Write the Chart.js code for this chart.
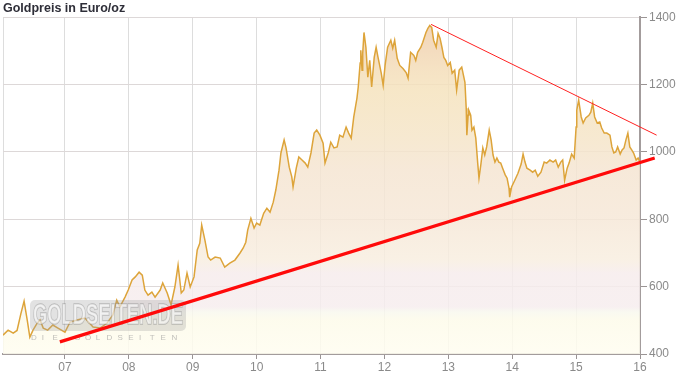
<!DOCTYPE html>
<html><head><meta charset="utf-8">
<script src="https://cdn.jsdelivr.net/npm/chart.js@4"></script>
<style>html,body{margin:0;padding:0;background:#fff}#wrap{width:676px;height:375px}</style>
</head><body><div id="wrap"><canvas id="c" width="676" height="375"></canvas></div>
<script>
// ---- data (decimal years, EUR/oz) ----
const years = [2006.03,2006.11,2006.19,2006.25,2006.31,2006.36,2006.41,2006.45,2006.50,2006.56,2006.61,2006.66,2006.73,2006.81,2006.89,
2007.00,2007.08,2007.19,2007.31,2007.44,2007.55,2007.66,2007.75,2007.81,2007.86,2007.94,2007.99,
2008.05,2008.10,2008.16,2008.21,2008.25,2008.30,2008.36,2008.41,2008.49,2008.53,2008.60,2008.66,2008.72,2008.77,2008.82,2008.86,2008.91,2008.96,
2009.02,2009.07,2009.11,2009.14,2009.19,2009.24,2009.28,2009.35,2009.43,2009.50,2009.58,2009.66,2009.74,2009.79,2009.83,2009.86,2009.91,2009.96,
2010.00,2010.05,2010.11,2010.16,2010.21,2010.26,2010.30,2010.35,2010.38,2010.43,2010.46,2010.51,2010.55,2010.57,2010.62,2010.66,2010.71,2010.76,2010.80,2010.85,2010.90,2010.94,2010.99,
2011.04,2011.07,2011.12,2011.16,2011.21,2011.26,2011.30,2011.35,2011.40,2011.44,2011.48,2011.52,2011.57,2011.59,2011.62,2011.63,2011.65,2011.66,2011.68,2011.71,2011.74,2011.77,2011.80,2011.84,2011.87,2011.90,2011.95,2011.98,
2012.01,2012.05,2012.10,2012.13,2012.16,2012.20,2012.24,2012.29,2012.34,2012.37,2012.41,2012.46,2012.49,2012.52,2012.57,2012.60,2012.65,2012.68,2012.71,2012.74,2012.77,2012.81,2012.84,2012.87,2012.90,2012.93,2012.96,2012.99,
2013.03,2013.06,2013.10,2013.13,2013.17,2013.21,2013.26,2013.28,2013.29,2013.31,2013.32,2013.35,2013.37,2013.40,2013.43,2013.46,2013.48,2013.51,2013.54,2013.57,2013.60,2013.64,2013.67,2013.70,2013.73,2013.76,2013.79,2013.82,2013.85,2013.89,2013.92,2013.95,2013.96,2013.99,
2014.04,2014.09,2014.14,2014.17,2014.20,2014.23,2014.28,2014.32,2014.36,2014.40,2014.45,2014.50,2014.54,2014.59,2014.64,2014.68,2014.72,2014.76,2014.79,2014.82,2014.86,2014.89,2014.93,2014.97,
2015.00,2015.01,2015.04,2015.08,2015.11,2015.15,2015.20,2015.23,2015.26,2015.29,2015.33,2015.37,2015.40,2015.44,2015.48,2015.53,2015.56,2015.59,2015.62,2015.65,2015.69,2015.72,2015.75,2015.78,2015.81,2015.84,2015.87,2015.90,2015.94,2015.97,2016.00];
const prices = [456,471,462,470,520,557,500,450,471,490,501,477,471,486,477,
465,495,501,507,480,477,492,516,560,540,569,590,
620,629,643,634,590,575,584,569,590,611,581,546,599,664,581,590,640,599,
629,709,729,783,738,688,679,688,685,658,670,679,700,715,732,768,803,774,
789,783,818,833,821,851,887,946,997,1036,1012,955,926,896,952,985,976,967,955,997,1056,1065,1050,
1026,967,997,1029,1012,1015,1050,1044,1074,1056,1041,1104,1160,1193,1264,1302,1243,1293,1355,1311,1222,1272,1193,1281,1311,1281,1234,1198,
1257,1311,1332,1308,1332,1278,1257,1248,1236,1219,1296,1287,1272,1296,1311,1326,1355,1367,1376,1370,1332,1311,1352,1338,1311,1281,1272,1257,
1266,1234,1243,1184,1243,1252,1207,1130,1050,1109,1124,1109,1065,1074,1041,967,922,964,1012,991,1015,1065,1036,991,970,982,970,967,952,932,922,893,866,896,
916,937,964,994,970,952,946,940,946,928,940,970,967,976,970,976,955,970,976,916,952,967,994,982,
1074,1124,1154,1104,1086,1101,1109,1118,1145,1104,1086,1089,1071,1056,1056,1050,1015,997,1000,1015,994,1006,1012,1036,1056,1015,1006,997,976,982,970];
const supportYears = [2006.92, 2016.23];
const supportValues = [436, 982];
const resistYears = [2012.73, 2016.26];
const resistValues = [1379, 1050];
const tickYears = [2007,2008,2009,2010,2011,2012,2013,2014,2015,2016];
const yTicks = [400,600,800,1000,1200,1400];
const X_MIN = 2006.03, X_MAX = 2016.0;

const gradStops = [[1400,'rgba(239,204,170,0.85)'],[1300,'rgba(242,214,180,0.85)'],[1240,'rgba(244,222,186,0.85)'],[1180,'rgba(245,227,190,0.85)'],
  [1050,'rgba(245,229,200,0.85)'],[950,'rgba(245,229,210,0.85)'],[800,'rgba(246,232,216,0.85)'],[680,'rgba(248,238,224,0.85)'],
  [640,'rgba(246,236,236,0.85)'],[540,'rgba(246,237,238,0.85)'],[525,'rgba(248,248,238,0.85)'],[500,'rgba(253,251,234,0.85)'],[400,'rgba(255,253,240,0.85)']];

function fillGradient(ctx){
  const ch = ctx.chart; const ca = ch.chartArea; if(!ca) return 'rgba(245,229,200,0.8)';
  const ys = ch.scales.y;
  const g = ch.ctx.createLinearGradient(0, ys.getPixelForValue(1400), 0, ys.getPixelForValue(400));
  gradStops.forEach(([v,c]) => g.addColorStop((1400 - v)/1000, c));
  return g;
}

const watermark = {
  id:'watermark',
  afterDatasetDraw(chart, args){
    if (args.index !== 2) return;
    const c = chart.ctx; c.save();
    c.fillStyle = 'rgba(160,160,160,0.30)';
    c.beginPath();
    if (c.roundRect) c.roundRect(30, 300, 156, 31, 5); else c.rect(30,300,156,31);
    c.fill();
    c.font = 'bold 29px "Liberation Sans", Arial, sans-serif';
    c.textBaseline = 'middle'; c.textAlign = 'left';
    c.lineWidth = 1.5; c.strokeStyle = 'rgba(130,130,130,0.45)';
    c.strokeText('GOLDSEITEN.DE', 33, 316, 150);
    c.fillStyle = 'rgba(255,255,255,0.55)';
    c.fillText('GOLDSEITEN.DE', 33, 316, 150);
    c.font = '8px "Liberation Sans", Arial, sans-serif';
    c.fillStyle = 'rgba(140,140,140,0.55)';
    const sub = 'DIE GOLDSEITEN'.split('');
    sub.forEach((ch,i) => c.fillText(ch, 31 + i*10.8, 338));
    c.restore();
  }
};

new Chart(document.getElementById('c'), {
  type:'line',
  data:{ datasets:[
    { label:'support', data: supportYears.map((x,i)=>({x, y:supportValues[i]})), borderColor:'#ff0a0a', borderWidth:3.2, pointRadius:0, fill:false, clip:false, order:0 },
    { label:'resistance', data: resistYears.map((x,i)=>({x, y:resistValues[i]})), borderColor:'#ff2020', borderWidth:1, pointRadius:0, fill:false, clip:false, order:0 },
    { label:'Gold', data: years.map((x,i)=>({x, y:prices[i]})), borderColor:'#dda43a', borderWidth:1.5, pointRadius:0, fill:'start', backgroundColor: fillGradient, tension:0, order:1 }
  ]},
  options:{
    responsive:false, animation:false, devicePixelRatio:1,
    layout:{ padding:{ left:3, right:0, top:0, bottom:0 } },
    plugins:{
      legend:{ display:false }, tooltip:{ enabled:false },
      title:{ display:true, text:'Goldpreis in Euro/oz', align:'start', color:'#2e2e38',
        font:{ family:'"Liberation Sans", Arial, sans-serif', size:12.5, weight:'bold' }, padding:{ top:1, bottom:1.3 } }
    },
    scales:{
      x:{ type:'linear', min:X_MIN, max:X_MAX,
        afterBuildTicks: s => { s.ticks = [X_MIN, ...tickYears].map(v => ({ value:v })); },
        ticks:{ autoSkip:false, maxRotation:0, color:'#8a8a8a', padding:1,
          font:{ family:'"Liberation Sans", Arial, sans-serif', size:12 },
          callback: v => v === X_MIN ? '' : String(v).slice(2) },
        grid:{ color:'#dddddd', lineWidth:1, tickLength:5, tickColor: c => c.index === 0 ? 'rgba(0,0,0,0)' : '#9a9494' },
        border:{ color:'#a39c9c', width:2 },
        afterFit: s => { s.height = 21; }
      },
      y:{ position:'right', min:400, max:1400,
        afterBuildTicks: s => { s.ticks = yTicks.map(v => ({ value:v })); },
        ticks:{ color:'#8a8a8a', padding:2, font:{ family:'"Liberation Sans", Arial, sans-serif', size:12 },
          callback: v => String(v) },
        grid:{ color:'#ddd8d8', lineWidth:1, tickLength:7, tickColor:'#9a9494' },
        border:{ color:'#a39c9c', width:2 },
        afterFit: s => { s.width = 36; }
      }
    }
  },
  plugins:[watermark]
});
</script></body></html>
